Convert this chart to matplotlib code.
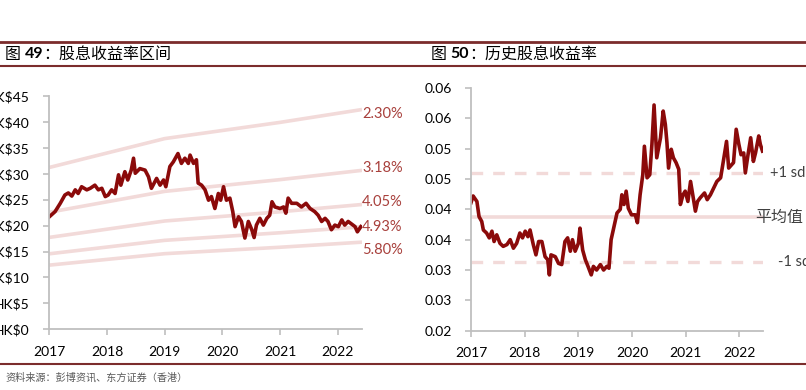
import matplotlib.pyplot as plt
from matplotlib.lines import Line2D

plt.rcParams['font.family'] = ['Lato', 'Noto Sans CJK SC', 'DejaVu Sans']
cjk = ['Noto Sans CJK SC', 'DejaVu Sans']

# 图49 股价 (年份, 港元)
price_t = [2017.00, 2017.10, 2017.19, 2017.27, 2017.33, 2017.39, 2017.45, 2017.50, 2017.56, 2017.65,
           2017.71, 2017.79, 2017.85, 2017.91, 2017.97, 2018.02, 2018.08, 2018.14, 2018.20, 2018.24,
           2018.31, 2018.36, 2018.42, 2018.46, 2018.49, 2018.57, 2018.66, 2018.72, 2018.77, 2018.86,
           2018.92, 2018.98, 2019.02, 2019.09, 2019.15, 2019.23, 2019.29, 2019.35, 2019.41, 2019.44,
           2019.50, 2019.55, 2019.58, 2019.64, 2019.70, 2019.76, 2019.81, 2019.87, 2019.93, 2019.97,
           2020.02, 2020.07, 2020.13, 2020.18, 2020.22, 2020.28, 2020.33, 2020.39, 2020.45, 2020.51,
           2020.55, 2020.59, 2020.65, 2020.71, 2020.77, 2020.82, 2020.86, 2020.91, 2021.00, 2021.06,
           2021.10, 2021.14, 2021.20, 2021.29, 2021.37, 2021.45, 2021.52, 2021.60, 2021.66, 2021.72,
           2021.78, 2021.83, 2021.89, 2021.95, 2022.01, 2022.07, 2022.12, 2022.18, 2022.24, 2022.30,
           2022.34, 2022.40]
price_v = [21.7, 22.7, 24.3, 25.9, 26.3, 25.7, 26.9, 26.2, 27.5, 26.9,
           27.2, 27.8, 26.9, 27.2, 25.6, 25.9, 26.9, 26.2, 29.8, 27.8,
           30.4, 28.8, 30.7, 33.0, 30.1, 31.0, 30.7, 29.4, 27.2, 29.1,
           27.8, 28.8, 27.5, 31.4, 32.3, 33.9, 32.0, 33.0, 32.0, 33.6,
           32.0, 32.7, 28.2, 27.8, 26.9, 24.9, 25.6, 23.3, 26.2, 24.9,
           27.5, 24.9, 25.3, 22.7, 19.8, 21.7, 20.8, 17.6, 20.8, 19.2,
           17.7, 20.1, 21.4, 20.1, 21.4, 22.0, 24.6, 23.6, 23.3, 23.6,
           22.4, 25.3, 24.3, 24.3, 23.6, 24.3, 23.3, 22.7, 22.0, 20.8,
           21.4, 20.8, 19.2, 20.1, 19.8, 21.1, 20.1, 20.8, 20.3, 19.8,
           18.8, 19.8]

# 每股股息 (用于股息率区间)
dps_t = [2017.0, 2019.0, 2021.0, 2022.42]
dps_v = [0.718, 0.846, 0.918, 0.975]
band_yields = [0.0230, 0.0318, 0.0405, 0.0493, 0.0580]
band_labels = ['2.30%', '3.18%', '4.05%', '4.93%', '5.80%']

# 图50 历史股息收益率
yld_t = [2017.00, 2017.04, 2017.11, 2017.15, 2017.20, 2017.23, 2017.29, 2017.34, 2017.39, 2017.43,
         2017.48, 2017.54, 2017.60, 2017.67, 2017.73, 2017.79, 2017.85, 2017.91, 2017.96, 2018.01,
         2018.06, 2018.10, 2018.16, 2018.21, 2018.26, 2018.32, 2018.38, 2018.43, 2018.46, 2018.49,
         2018.57, 2018.63, 2018.69, 2018.75, 2018.80, 2018.85, 2018.89, 2018.94, 2019.00, 2019.03,
         2019.08, 2019.13, 2019.18, 2019.24, 2019.28, 2019.34, 2019.41, 2019.47, 2019.53, 2019.57,
         2019.61, 2019.65, 2019.72, 2019.78, 2019.81, 2019.85, 2019.89, 2019.93, 2019.99, 2020.06,
         2020.10, 2020.15, 2020.20, 2020.23, 2020.28, 2020.33, 2020.37, 2020.41, 2020.46, 2020.53,
         2020.58, 2020.62, 2020.65, 2020.68, 2020.73, 2020.77, 2020.82, 2020.87, 2020.90, 2020.95,
         2020.99, 2021.04, 2021.09, 2021.14, 2021.18, 2021.22, 2021.27, 2021.35, 2021.40, 2021.46,
         2021.52, 2021.58, 2021.65, 2021.70, 2021.76, 2021.80, 2021.86, 2021.89, 2021.94, 2021.99,
         2022.03, 2022.08, 2022.11, 2022.16, 2022.21, 2022.26, 2022.30, 2022.36, 2022.39, 2022.43]
yld_v = [0.0411, 0.0422, 0.0413, 0.0388, 0.0380, 0.0366, 0.0361, 0.0353, 0.0364, 0.0347,
         0.0358, 0.0344, 0.0339, 0.0342, 0.0350, 0.0336, 0.0344, 0.0361, 0.0353, 0.0364,
         0.0355, 0.0366, 0.0342, 0.0325, 0.0347, 0.0347, 0.0322, 0.0317, 0.0292, 0.0325,
         0.0322, 0.0311, 0.0309, 0.0347, 0.0353, 0.0331, 0.0350, 0.0331, 0.0344, 0.0369,
         0.0333, 0.0317, 0.0306, 0.0292, 0.0306, 0.0300, 0.0309, 0.0300, 0.0306, 0.0303,
         0.0350, 0.0366, 0.0394, 0.0400, 0.0424, 0.0408, 0.0430, 0.0402, 0.0391, 0.0391,
         0.0378, 0.0424, 0.0457, 0.0504, 0.0452, 0.0457, 0.0507, 0.0572, 0.0485, 0.0518,
         0.0562, 0.0540, 0.0510, 0.0468, 0.0499, 0.0485, 0.0477, 0.0466, 0.0408, 0.0424,
         0.0430, 0.0413, 0.0446, 0.0419, 0.0397, 0.0413, 0.0419, 0.0427, 0.0416, 0.0424,
         0.0435, 0.0446, 0.0452, 0.0479, 0.0512, 0.0468, 0.0474, 0.0477, 0.0532, 0.0507,
         0.0490, 0.0493, 0.0460, 0.0490, 0.0518, 0.0479, 0.0493, 0.0521, 0.0507, 0.0496]
yld_mean = 0.0387
yld_up = 0.0460
yld_dn = 0.0314

years = [2017, 2018, 2019, 2020, 2021, 2022]
left_ticks = [0, 5, 10, 15, 20, 25, 30, 35, 40, 45]
left_ticklabels = ['HK$0', 'HK$5', 'HK$10', 'HK$15', 'HK$20', 'HK$25', 'HK$30', 'HK$35', 'HK$40', 'HK$45']
right_ticks = [0.020, 0.025, 0.030, 0.035, 0.040, 0.045, 0.050, 0.055, 0.060]
right_ticklabels = ['0.02', '0.03', '0.03', '0.04', '0.04', '0.05', '0.05', '0.06', '0.06']

red = '#8b0a0a'
pink = '#f2dad9'
frame = '#7b2c2c'
grey = '#bfbfbf'

fig = plt.figure(figsize=(8.06, 3.9), dpi=100)

def style_axes(ax):
    for s in ['top', 'right']:
        ax.spines[s].set_visible(False)
    for s in ['left', 'bottom']:
        ax.spines[s].set_color(grey)
        ax.spines[s].set_linewidth(1.3)
    ax.tick_params(direction='out', length=4, width=1.2, color=grey, labelsize=10, labelcolor='#000000')
    ax.tick_params(axis='y', pad=10)
    ax.tick_params(axis='x', pad=8)
    ax.set_xticks(years)
    ax.set_xticklabels([str(y) for y in years])

# ---- 左图 ----
ax1 = fig.add_axes([49.3 / 806, 60.7 / 390, 312.7 / 806, 233.3 / 390])
style_axes(ax1)
for yv in band_yields:
    ax1.plot(dps_t, [d / yv for d in dps_v], color=pink, lw=2.6, solid_capstyle='butt', zorder=1)
ax1.plot(price_t, price_v, color=red, lw=2.6, zorder=2)
label_off = [-3, 2, 2, 0, -6]
for yv, lab, off in zip(band_yields, band_labels, label_off):
    ax1.annotate(lab, xy=(dps_t[-1], dps_v[-1] / yv), xytext=(0, off), textcoords='offset points',
                 ha='left', va='center', fontsize=10.5, color='#a8403c', annotation_clip=False)
ax1.set_xlim(2017, 2022.42)
ax1.set_ylim(0, 45)
ax1.set_yticks(left_ticks)
ax1.set_yticklabels(left_ticklabels)

# ---- 右图 ----
ax2 = fig.add_axes([471 / 806, 59.3 / 390, 291.5 / 806, 242.7 / 390])
style_axes(ax2)
ax2.axhline(yld_mean, color=pink, lw=2.6, zorder=1)
ax2.axhline(yld_up, color=pink, lw=2.4, dashes=(3.5, 3), zorder=1)
ax2.axhline(yld_dn, color=pink, lw=2.4, dashes=(3.5, 3), zorder=1)
ax2.plot(yld_t, yld_v, color=red, lw=2.6, zorder=2)
tr = ax2.get_yaxis_transform()
ax2.text(1.026, yld_up, '+1 sd', transform=tr, ha='left', va='center', fontsize=10.5, color='#404040', clip_on=False)
ax2.text(0.974, yld_mean, '平均值', transform=tr, ha='left', va='center', fontsize=11.5, color='#404040',
         family=cjk, clip_on=False)
ax2.text(1.053, yld_dn, '-1 sd', transform=tr, ha='left', va='center', fontsize=10.5, color='#404040', clip_on=False)
ax2.set_xlim(2017, 2022.43)
ax2.set_ylim(0.02, 0.06)
ax2.set_yticks(right_ticks)
ax2.set_yticklabels(right_ticklabels)

# ---- 标题框线 ----
fig.add_artist(Line2D([0, 1], [1 - 42 / 390] * 2, color=frame, lw=2.0))
fig.add_artist(Line2D([0, 1], [1 - 65.5 / 390] * 2, color=frame, lw=1.5))
fig.add_artist(Line2D([0, 1], [1 - 363.5 / 390] * 2, color=frame, lw=1.5))

def title(x, num, rest):
    t1 = fig.text(x, 1 - 54 / 390, '图 ', family=cjk, fontsize=11.5, va='center')
    t2 = ax1.annotate(num, xy=(1, 0.5), xycoords=t1, va='center', ha='left', fontsize=11.5,
                      fontweight='bold', family=['Lato'])
    ax1.annotate(rest, xy=(1, 0.5), xycoords=t2, va='center', ha='left', fontsize=11.5, family=cjk)

title(5 / 806, '49', '：股息收益率区间')
title(431 / 806, '50', '：历史股息收益率')

fig.text(5 / 806, 1 - 377 / 390, '资料来源：彭博资讯、东方证券（香港）', family=cjk, fontsize=7.3,
         color='#595959', va='center')

fig.savefig('out.png', dpi=100)
